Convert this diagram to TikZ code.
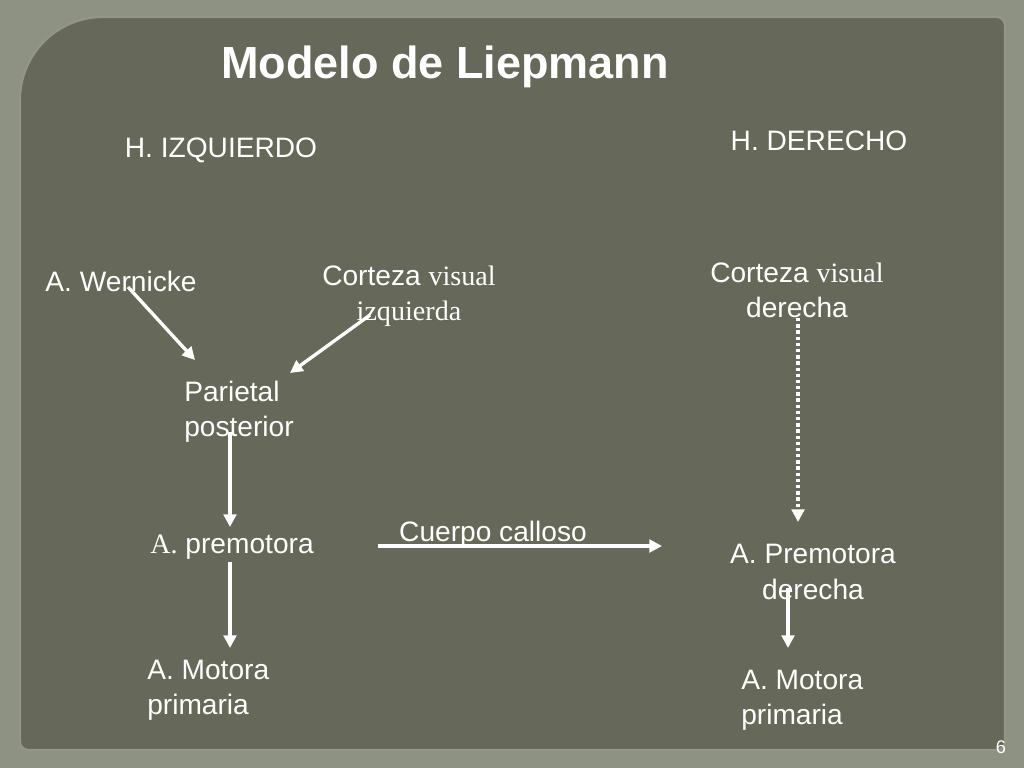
\documentclass[tikz,border=0pt]{standalone}
\usepackage{fontspec}
\setmainfont{Liberation Sans}
\newfontfamily\serifx{Liberation Serif}
\usetikzlibrary{arrows.meta}
\definecolor{outerbg}{HTML}{8E9282}
\definecolor{panelbg}{HTML}{666859}
\tikzstyle{lbl} = [text=white, font=\fontsize{20}{21}\selectfont, inner sep=0pt, align=center]
\tikzstyle{lbll} = [lbl, align=left, anchor=west]
\tikzstyle{arrow} = [white, line width=2.4pt, -{Triangle[length=9pt,width=9pt]}]

\begin{document}
\begin{tikzpicture}[x=0.025cm,y=-0.025cm]
\useasboundingbox (0,0) rectangle (1024,768);
\fill[outerbg] (0,0) rectangle (1024,768);
\draw[panelbg!70!white, line width=1.5pt, fill=panelbg]
  (20,750) -- (20,100) arc (180:270:83) -- (1000,17) [rounded corners=6pt] -- (1005,17) -- (1005,750) -- cycle;

\node[text=white, font=\bfseries\fontsize{32}{36}\selectfont, inner sep=0pt] (title) at (445,67) {Modelo de Liepmann};
\node[lbl] (hizq) at (221,150) {H. IZQUIERDO};
\node[lbl] (hder) at (819,141) {H. DERECHO};

\node[lbl] (wern) at (121,281) {A. Wernicke};
\node[lbl] (cvi) at (409,296) {Corteza {\serifx visual}\\[4pt]{\serifx izquierda}};
\node[lbl] (cvd) at (797,290) {Corteza {\serifx visual}\\[4pt]derecha};
\node[lbll] (par) at (184,412) {Parietal\\[4pt]posterior};
\node[lbl] (prem) at (232,547) {{\serifx A.} premotora};
\node[lbll] (mot1) at (147,690) {A. Motora\\[4pt]primaria};
\node[lbl] (callo) at (493,534) {Cuerpo calloso};
\node[lbl] (premd) at (813,572) {A. Premotora\\[4pt]derecha};
\node[lbll] (mot2) at (741,700) {A. Motora\\[4pt]primaria};
\node[text=white, font=\fontsize{13}{15}\selectfont, inner sep=0pt] (pnum) at (1001,747) {6};

\coordinate (a1) at (128,287); \coordinate (b1) at (195,360);
\coordinate (a2) at (370,315); \coordinate (b2) at (290,373);
\coordinate (a3) at (230,432); \coordinate (b3) at (230,527);
\coordinate (a4) at (230,562); \coordinate (b4) at (230,648);
\coordinate (a5) at (378,546); \coordinate (b5) at (662,546);
\coordinate (a6) at (798,318); \coordinate (b6) at (798,522);
\coordinate (a7) at (788,588); \coordinate (b7) at (788,648);

\draw[arrow] (a1) -- (b1);
\draw[arrow] (a2) -- (b2);
\draw[arrow] (a3) -- (b3);
\draw[arrow] (a4) -- (b4);
\draw[arrow] (a5) -- (b5);
\draw[arrow, dash pattern=on 2.4pt off 2pt] (a6) -- (b6);
\draw[arrow] (a7) -- (b7);
\end{tikzpicture}
\end{document}
